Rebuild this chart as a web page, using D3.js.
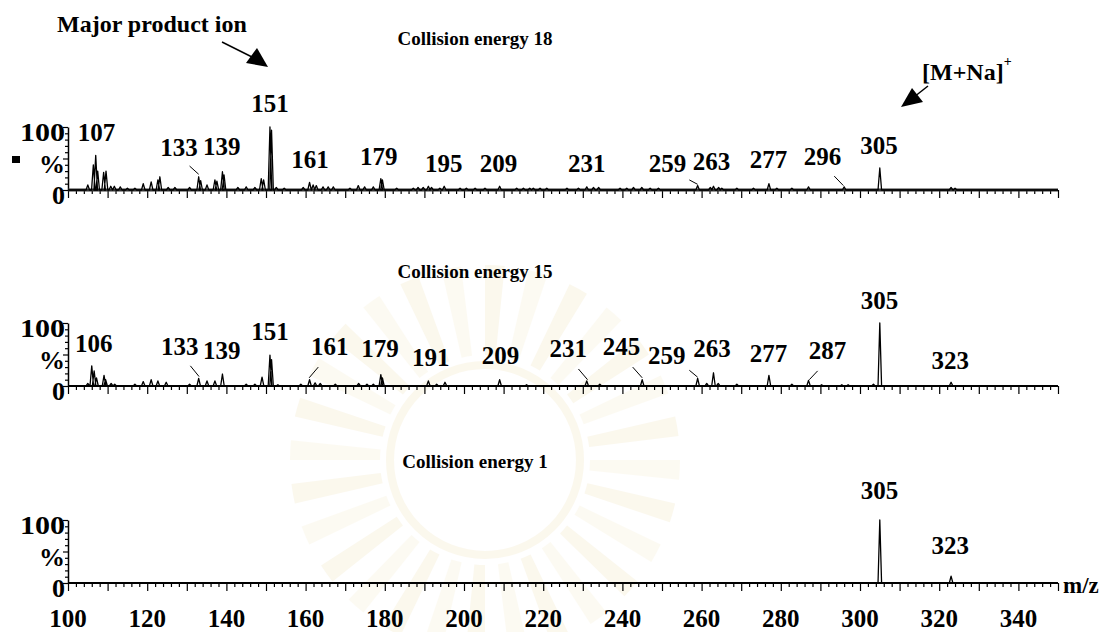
<!DOCTYPE html>
<html>
<head>
<meta charset="utf-8">
<script src="https://cdn.jsdelivr.net/npm/d3@7"></script>
<style>
  html, body { margin: 0; padding: 0; background: #fff; }
  svg { display: block; }
  svg text { font-family: "Liberation Serif", "DejaVu Serif", serif; font-weight: bold; fill: #000; }
</style>
</head>
<body>
<svg id="chart" width="1109" height="632" font-family="'Liberation Serif', 'DejaVu Serif', serif"></svg>
<script>
// ---------- data ----------
const mzDomain = [100, 350];
const mzTickLabels = [100, 120, 140, 160, 180, 200, 220, 240, 260, 280, 300, 320, 340];
const intensityLabels = [[0, "0"], [50, "%"], [100, "100"]];
const panelTitles = ["Collision energy 18", "Collision energy 15", "Collision energy 1"];

// [m/z, relative intensity %]
const ce18Peaks = [
  [105.0, 8], [106.4, 40], [107, 55], [107.5, 30], [109.0, 28], [109.6, 30], [110.8, 6], [111.7, 6],
  [113.2, 5], [115.0, 3], [116.9, 3], [119.0, 10], [121.0, 13], [122.7, 16], [123.2, 21], [125.3, 4],
  [127.0, 4], [130.7, 4], [133, 21], [133.5, 15], [135.1, 8], [137.1, 16], [137.6, 14], [139, 29],
  [139.4, 24], [142.9, 4], [145.0, 5], [147.2, 4], [148.8, 18], [149.4, 16], [151, 100], [151.4, 95],
  [152.6, 4], [154.6, 3], [159.4, 4], [161, 12], [161.9, 8], [162.7, 7], [164.4, 5], [165.7, 5],
  [167.0, 5], [171.2, 3], [173.3, 7], [174.9, 5], [177.1, 5], [179, 18], [179.4, 16], [183.0, 3],
  [187.2, 3], [188.4, 4], [189.7, 4], [191.0, 6], [191.8, 4], [193.9, 3], [195, 6], [199.0, 3],
  [200.6, 3], [202.8, 3], [205.3, 3], [209, 6], [213.3, 3], [215.0, 3], [216.6, 3], [217.5, 3],
  [219.2, 3], [220.9, 3], [226.0, 3], [228.9, 3], [231, 5], [232.7, 4], [234.0, 4], [239.4, 3],
  [241.1, 3], [242.8, 4], [244.9, 4], [247.0, 3], [249.1, 3], [259, 7], [262.2, 4], [263, 6],
  [264.3, 4], [265.1, 3], [268.9, 3], [273.1, 3], [277, 10], [279.0, 3], [282.8, 3], [287.0, 5],
  [296, 5], [305, 35], [323, 4], [324.0, 3]
];
const ce15Peaks = [
  [105.0, 4], [106, 32], [106.6, 24], [107.2, 13], [109.1, 17], [109.5, 10], [110.9, 4], [111.8, 3],
  [116.9, 3], [119.0, 7], [121.0, 10], [122.7, 8], [124.8, 6], [130.7, 3], [133, 12], [135.1, 8],
  [137.1, 8], [139, 19], [145.0, 3], [147.2, 3], [149.0, 14], [151, 49], [151.4, 42], [153.0, 2],
  [158.8, 3], [161, 10], [162.4, 5], [163.7, 4], [167.5, 3], [173.4, 4], [175.5, 3], [177.1, 3],
  [179, 18], [179.4, 13], [191, 8], [193.1, 3], [195.2, 6], [209, 10], [215.8, 2], [231, 8],
  [234.3, 3], [245, 10], [259, 12], [261.3, 4], [263, 21], [264.2, 4], [268.9, 3], [277, 17],
  [282.8, 3], [287, 9], [290.3, 2], [295.4, 2], [297.0, 2], [303.4, 3], [305, 100], [323, 6]
];
const ce1Peaks = [[305, 100], [323, 11]];

const ce18Labels = [107, 133, 139, 151, 161, 179, 195, 209, 231, 259, 263, 277, 296, 305];
const ce15Labels = [106, 133, 139, 151, 161, 179, 191, 209, 231, 245, 259, 263, 277, 287, 305, 323];
const ce1Labels = [305, 323];

// ---------- layout ----------
const W = 1109, H = 632;
const xLeft = 68, xRight = 1058;
const panelBase = [190, 386, 583];
const panelHeight = 63;
const titleY = [38, 271, 461];
const titleX = 475;
const labelSize = 25;

// label anchor [m/z of text centre, height in %], optional leader [mz1, %1, mz2, %2]
const ce18Spots = [
  [107.2, 92], [128.0, 68, [130.7, 38, 133, 25]], [138.8, 69], [151, 138], [161.1, 48],
  [178.5, 53], [194.9, 42], [208.7, 42], [231, 42], [251.4, 42, [256.9, 16, 259, 9]],
  [262.5, 45], [276.9, 48], [290.5, 53, [293.5, 22, 295.8, 7]], [304.8, 71]
];
const ce15Spots = [
  [106.5, 68], [128.2, 62, [130.9, 32, 133.1, 15]], [138.8, 57], [151, 86],
  [166.1, 62, [163.2, 30, 160.9, 13]], [178.8, 60], [191.6, 46], [209.2, 49],
  [226.3, 60, [228.9, 27, 231.2, 10]], [239.8, 62, [242.6, 30, 245, 13]],
  [251.2, 49, [256.9, 25, 259, 14]], [262.6, 60], [276.9, 52],
  [291.8, 57, [289.3, 24, 287.2, 10]], [304.9, 136], [322.8, 41]
];
const ce1Spots = [[304.9, 147], [322.8, 59]];

const panels = [
  { peaks: ce18Peaks, labels: ce18Labels, spots: ce18Spots, baseWidth: 3, baseColor: "#333" },
  { peaks: ce15Peaks, labels: ce15Labels, spots: ce15Spots, baseWidth: 2, baseColor: "#000" },
  { peaks: ce1Peaks,  labels: ce1Labels,  spots: ce1Spots,  baseWidth: 2, baseColor: "#000" }
];

const svg = d3.select("#chart");
svg.append("rect").attr("width", W).attr("height", H).attr("fill", "#fff");

// faint seal printed behind the lower panels
const seal = svg.append("g").attr("transform", "translate(485,460)").attr("opacity", 0.22);
seal.append("circle").attr("r", 95).attr("fill", "none").attr("stroke", "#f0e0b0").attr("stroke-width", 8);
const rayArc = d3.arc().innerRadius(105).outerRadius(195);
d3.range(28).forEach(k => {
  const a0 = (k / 28) * 2 * Math.PI;
  seal.append("path")
    .attr("d", rayArc({ startAngle: a0, endAngle: a0 + (2 * Math.PI / 28) * 0.45 }))
    .attr("fill", k % 2 ? "#f6ecc8" : "#efe0b0");
});

const x = d3.scaleLinear().domain(mzDomain).range([xLeft, xRight]);
const peakHalfWidth = 0.45;

panels.forEach((p, i) => {
  const base = panelBase[i];
  const y = d3.scaleLinear().domain([0, 100]).range([base, base - panelHeight]);
  const g = svg.append("g");

  // title
  g.append("text")
    .attr("x", titleX).attr("y", titleY[i])
    .attr("text-anchor", "middle").attr("dy", "0.35em")
    .style("font-size", "19px")
    .text(panelTitles[i]);

  // x axis: minor ticks every 2, major every 10
  const xAxis = d3.axisBottom(x)
    .tickValues(d3.range(mzDomain[0], mzDomain[1] + 0.01, 2))
    .tickSize(0).tickFormat("");
  const xg = g.append("g").attr("transform", `translate(0,${base})`).call(xAxis);
  xg.select(".domain").remove();
  xg.selectAll(".tick line")
    .attr("y2", d => (d % 10 === 0 ? 8 : 4))
    .attr("stroke", "#000").attr("stroke-width", 1.2);

  // y axis: ticks every 10 %
  const yAxis = d3.axisLeft(y).tickValues(d3.range(0, 101, 10)).tickSize(0).tickFormat("");
  const yg = g.append("g").attr("transform", `translate(${xLeft},0)`).call(yAxis);
  yg.select(".domain").attr("stroke", "#000").attr("stroke-width", 1.5);
  yg.selectAll(".tick line")
    .attr("x2", d => (d % 50 === 0 ? -5 : -3))
    .attr("stroke", "#000").attr("stroke-width", 1.2);
  intensityLabels.forEach(([v, t]) => {
    const tx = g.append("text")
      .attr("x", xLeft - 3).attr("y", y(v) + 5)
      .attr("text-anchor", "end").attr("dy", "0.35em")
      .style("font-size", "26px")
      .text(t);
    if (t === "100") tx.attr("textLength", 45).attr("lengthAdjust", "spacingAndGlyphs");
  });

  // baseline
  g.append("line")
    .attr("x1", x(mzDomain[0])).attr("x2", x(mzDomain[1]))
    .attr("y1", base).attr("y2", base)
    .attr("stroke", p.baseColor).attr("stroke-width", p.baseWidth);

  // spectrum trace
  const pts = [[mzDomain[0], 0]];
  p.peaks.slice().sort((a, b) => a[0] - b[0]).forEach(([m, v]) => {
    pts.push([m - peakHalfWidth, 0], [m, v], [m + peakHalfWidth, 0]);
  });
  pts.push([mzDomain[1], 0]);
  g.append("path")
    .datum(pts)
    .attr("fill", "none").attr("stroke", "#000").attr("stroke-width", 1.3)
    .attr("stroke-linejoin", "round")
    .attr("d", d3.line().x(d => x(d[0])).y(d => y(d[1])));

  // peak labels and leaders
  p.labels.forEach((lab, k) => {
    const s = p.spots[k];
    g.append("text")
      .attr("x", x(s[0])).attr("y", y(s[1]))
      .attr("text-anchor", "middle").attr("dy", "0.34em")
      .style("font-size", labelSize + "px")
      .text(lab);
    if (s[2]) {
      const [m1, v1, m2, v2] = s[2];
      g.append("line")
        .attr("x1", x(m1)).attr("y1", y(v1)).attr("x2", x(m2)).attr("y2", y(v2))
        .attr("stroke", "#000").attr("stroke-width", 1);
    }
  });

  // tick labels under the last panel
  if (i === panels.length - 1) {
    mzTickLabels.forEach(v => {
      g.append("text")
        .attr("x", x(v)).attr("y", 618)
        .attr("text-anchor", "middle").attr("dy", "0.35em")
        .style("font-size", labelSize + "px")
        .text(v);
    });
    g.append("text")
      .attr("x", xRight + 5).attr("y", base + 2)
      .attr("dy", "0.35em")
      .style("font-size", "23px")
      .text("m/z");
  }
});

// small marker at the left of the upper panel
svg.append("rect").attr("x", 12).attr("y", 156).attr("width", 8).attr("height", 7).attr("fill", "#000");

// annotations
svg.append("text")
  .attr("x", 57).attr("y", 32)
  .style("font-size", "24px")
  .text("Major product ion");
svg.append("line").attr("x1", 222).attr("y1", 42).attr("x2", 254).attr("y2", 58)
  .attr("stroke", "#000").attr("stroke-width", 1.5);
svg.append("path").attr("d", "M268,67 L246,63 L257,48 Z").attr("fill", "#000");

const mna = svg.append("text").attr("x", 922).attr("y", 80).style("font-size", "24px");
mna.append("tspan").text("[M+Na]");
mna.append("tspan").attr("dy", -14).style("font-size", "14px").text("+");
svg.append("line").attr("x1", 928).attr("y1", 86).attr("x2", 914).attr("y2", 97)
  .attr("stroke", "#000").attr("stroke-width", 1.5);
svg.append("path").attr("d", "M901,107 L912,88 L923,102 Z").attr("fill", "#000");
</script>
</body>
</html>
